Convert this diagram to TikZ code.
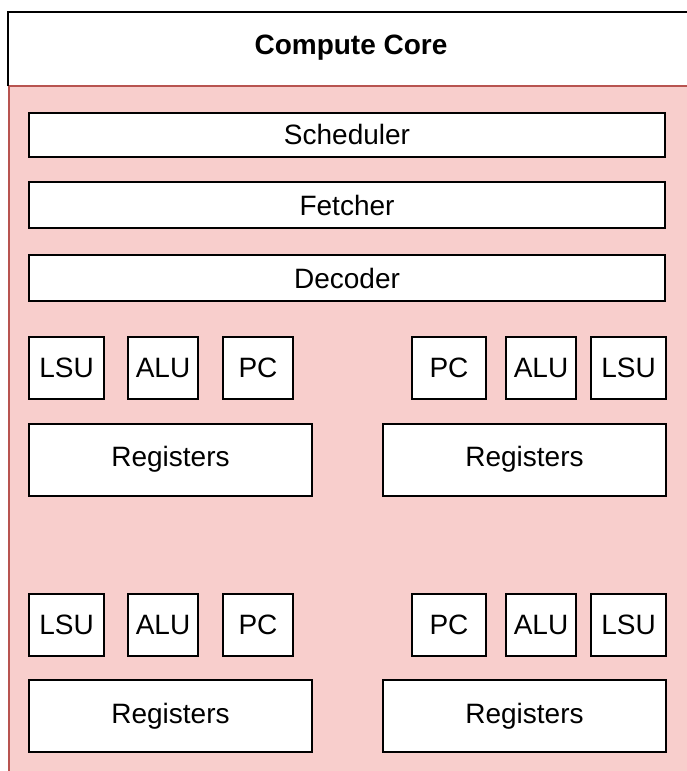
\documentclass[tikz,border=0pt]{standalone}
\usepackage{fontspec}
\setmainfont{Liberation Sans}
\definecolor{corefill}{HTML}{F8CECC}
\definecolor{coreline}{HTML}{B85450}
\begin{document}
\begin{tikzpicture}[x=1pt,y=-1pt,
  box/.style={draw=black, line width=2pt, fill=white, inner sep=0pt,
    font=\fontsize{28}{34}\selectfont},
  wide/.style={box, minimum width=636pt},
  unit/.style={box, minimum height=62pt},
  regs/.style={box, minimum width=283pt, minimum height=72pt}]
\useasboundingbox (0,0) rectangle (686,771);

% core body
\fill[corefill] (9,86) rectangle (700,780);
\draw[coreline, line width=2pt] (9,780) -- (9,86) -- (700,86);
% header strip
\fill[white] (8,12) rectangle (700,85);
\draw[black, line width=2pt] (8,86) -- (8,12) -- (700,12);
\node[font=\bfseries\fontsize{28}{34}\selectfont] (title) at (351,48) {Compute Core};

% shared front end
\node[wide, minimum height=44pt] (sched) at (347,134.5) {Scheduler};
\node[wide, minimum height=46pt] (fetch) at (347,205) {Fetcher};
\node[wide, minimum height=46pt] (dec) at (347,278) {Decoder};

% thread 1 (top left)
\node[unit, minimum width=75pt] (lsuA) at (66.5,368) {LSU};
\node[unit, minimum width=70pt] (aluA) at (163,368) {ALU};
\node[unit, minimum width=70pt] (pcA) at (258,368) {PC};
\node[regs] (regA) at (170.5,459.5) {Registers};

% thread 2 (top right)
\node[unit, minimum width=74pt] (pcB) at (449,368) {PC};
\node[unit, minimum width=70pt] (aluB) at (541,368) {ALU};
\node[unit, minimum width=75pt] (lsuB) at (628.5,368) {LSU};
\node[regs] (regB) at (524.5,459.5) {Registers};

% thread 3 (bottom left)
\node[unit, minimum width=75pt] (lsuC) at (66.5,624.5) {LSU};
\node[unit, minimum width=70pt] (aluC) at (163,624.5) {ALU};
\node[unit, minimum width=70pt] (pcC) at (258,624.5) {PC};
\node[regs] (regC) at (170.5,716) {Registers};

% thread 4 (bottom right)
\node[unit, minimum width=74pt] (pcD) at (449,624.5) {PC};
\node[unit, minimum width=70pt] (aluD) at (541,624.5) {ALU};
\node[unit, minimum width=75pt] (lsuD) at (628.5,624.5) {LSU};
\node[regs] (regD) at (524.5,716) {Registers};
\end{tikzpicture}
\end{document}
